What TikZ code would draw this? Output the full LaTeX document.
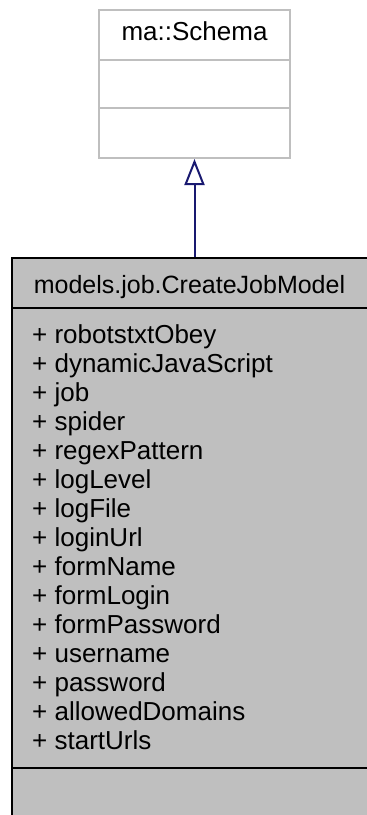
\documentclass[tikz,border=0pt]{standalone}
\usepackage{fontspec}
\setmainfont{Liberation Sans}
\usetikzlibrary{arrows.meta}

\definecolor{edgegray}{HTML}{BFBFBF}
\definecolor{fillgray}{HTML}{BFBFBF}
\definecolor{inheritblue}{HTML}{191970}

\begin{document}
\begin{tikzpicture}[
    x=1pt, y=-1pt,
    every node/.style={font=\fontsize{26}{29}\selectfont},
    basebox/.style={rectangle, draw=edgegray, fill=white, line width=2pt, inner sep=0pt},
    classbox/.style={rectangle, draw=black, fill=fillgray, line width=2pt, inner sep=0pt},
    classtext/.style={inner sep=0pt},
    inherit/.style={inheritblue, line width=2pt, -{Triangle[open, length=26pt, width=20pt]}}
]
\useasboundingbox (0,0) rectangle (367,815);

% ============ BASE CLASS (TOP) ============
\node[basebox, minimum width=191pt, minimum height=148pt] (schema) at (194.5,84) {};
\node[classtext, anchor=base] (schematitle) at (194.5,40) {ma::Schema};
\draw[edgegray, line width=2pt] (99,60) -- (290,60);
\draw[edgegray, line width=2pt] (99,108) -- (290,108);

% ============ DERIVED CLASS (BOTTOM) ============
\node[classbox, minimum width=360pt, minimum height=564pt] (model) at (192,540) {};
\node[classtext, anchor=base, font=\fontsize{25}{29}\selectfont] (modeltitle) at (189.5,293) {models.job.CreateJobModel};
\draw[line width=2pt] (12,308) -- (372,308);

% Attributes
\foreach \attr [count=\i] in {robotstxtObey, dynamicJavaScript, job, spider, regexPattern,
    logLevel, logFile, loginUrl, formName, formLogin, formPassword, username,
    password, allowedDomains, startUrls}
    \node[classtext, anchor=base west] (attr\i) at (32,314+29*\i) {+ \attr};

\draw[line width=2pt] (12,768) -- (372,768);

% Inheritance arrow
\draw[inherit] (schema.south |- model.north) -- (schema.south);

\end{tikzpicture}
\end{document}
